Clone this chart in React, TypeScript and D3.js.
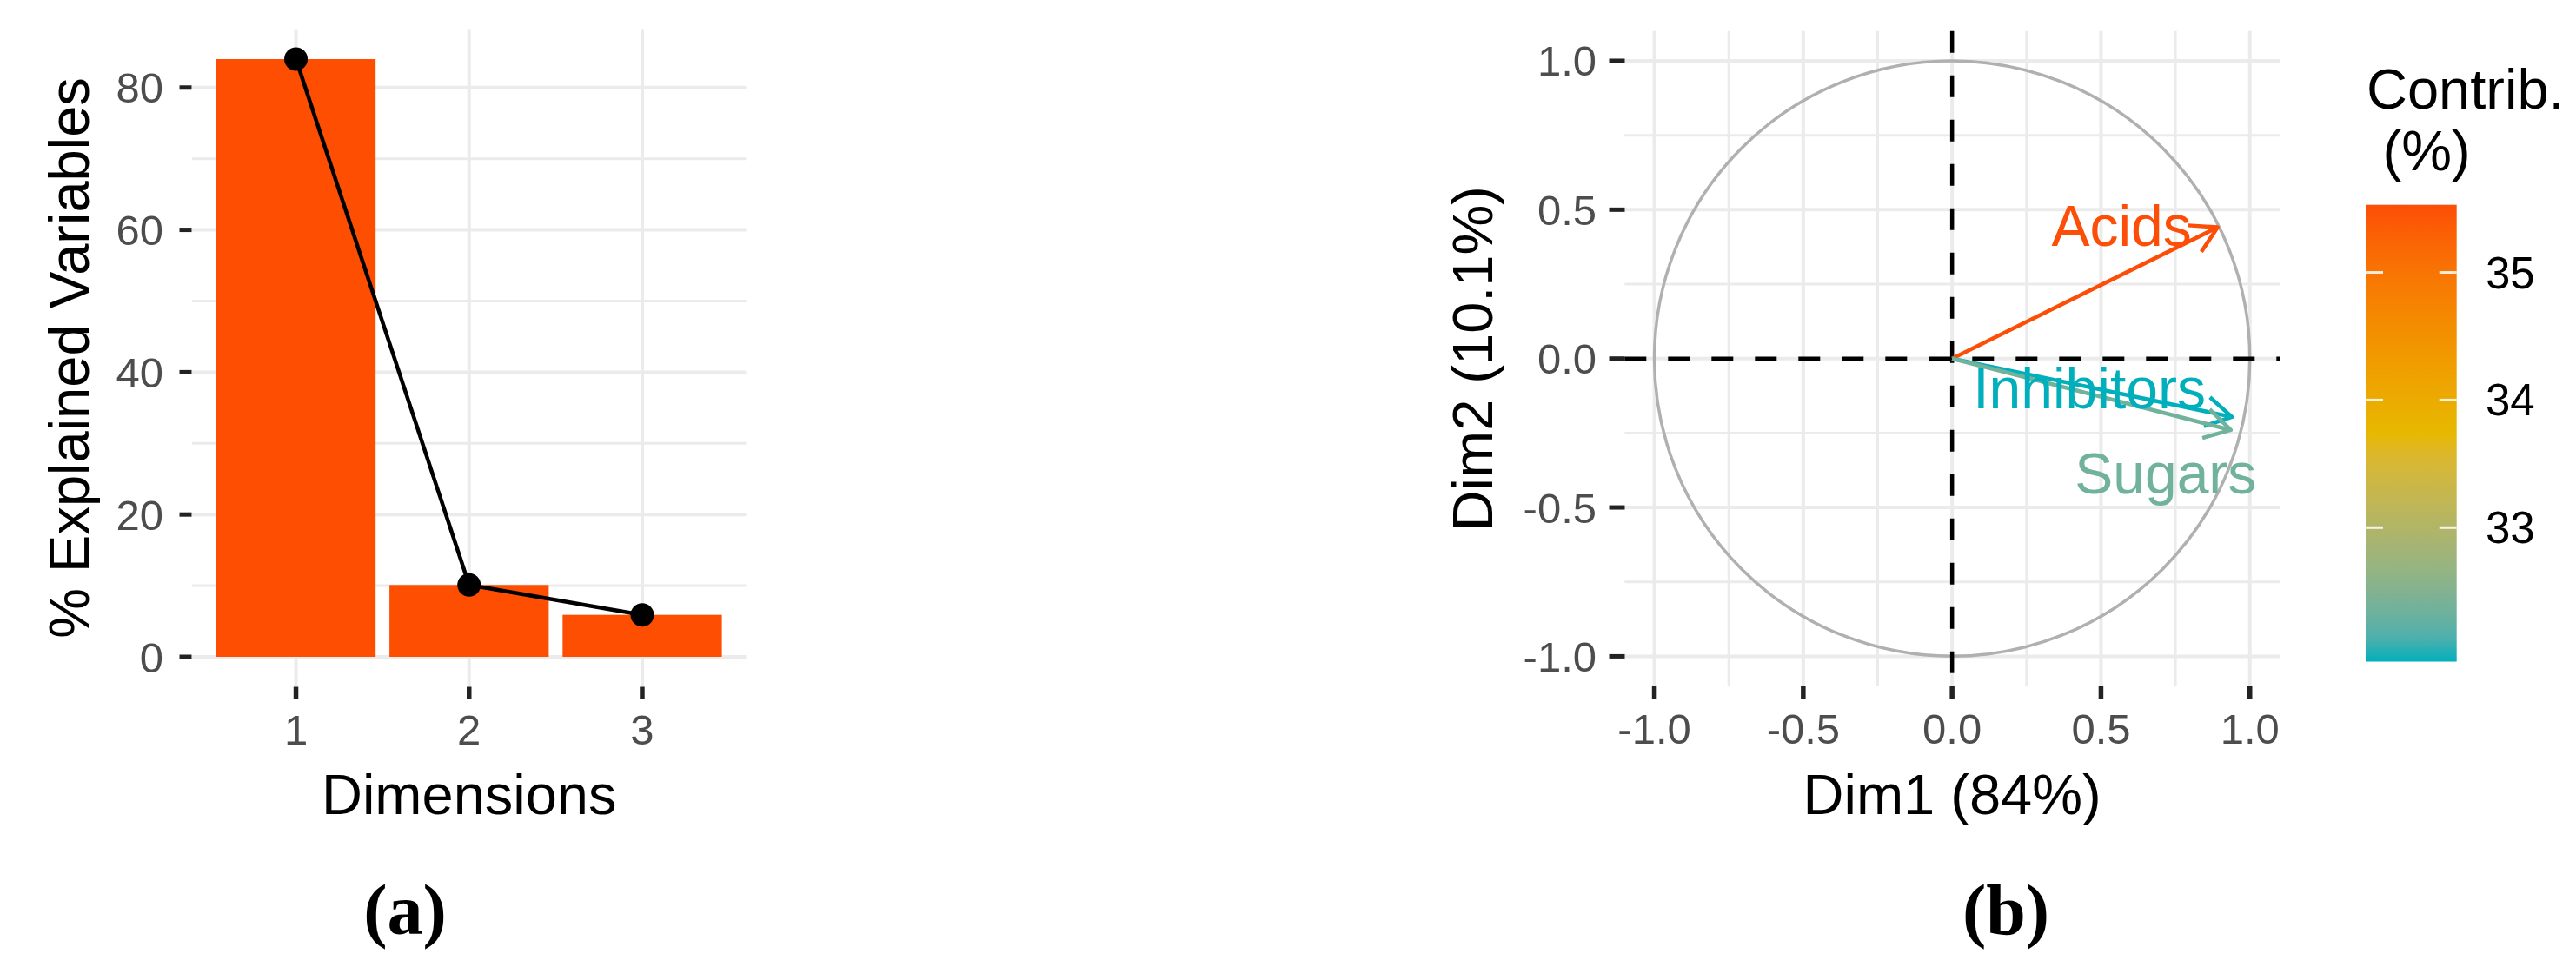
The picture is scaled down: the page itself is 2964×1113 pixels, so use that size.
import React from "react";
import * as d3 from "d3";

// ---- data ----
const dims = ["1", "2", "3"];
const explained = [84.0, 10.1, 5.9];
const eigTicks = [0, 20, 40, 60, 80];
const eigMinor = [10, 30, 50, 70];

const varNames = ["Acids", "Inhibitors", "Sugars"];
const dim1Coord = [0.892, 0.94, 0.936];
const dim2Coord = [0.441, -0.196, -0.24];
const contrib = [35.53, 31.95, 32.35];
const labelDim1 = [0.569, 0.461, 0.717];
const labelDim2 = [0.378, -0.168, -0.454];
const pcaTicks = [-1, -0.5, 0, 0.5, 1];
const pcaMinor = [-0.75, -0.25, 0.25, 0.75];
const legendTicks = [33, 34, 35];
const gradientColors = ["#00AFBB", "#E7B800", "#FC4E07"];

const FONT = "'Liberation Sans', Arial, sans-serif";
const GRID = "#ebebeb";
const TICKTXT = "#4d4d4d";

const fmt = (v: number) => d3.format(".1f")(v).replace("\u2212", "-");

export default function App() {
  // left panel scales
  const xL = d3.scaleLinear().domain([0.4, 3.6]).range([221, 858.5]);
  const yL = d3.scaleLinear().domain([-4.2, 88.2]).range([790.4, 33.6]);
  const barW = 0.92;
  const line = d3
    .line<number>()
    .x((_, i) => xL(i + 1))
    .y((d) => yL(d));

  // right panel scales
  const xR = d3.scaleLinear().domain([-1.1, 1.1]).range([1869.3, 2623]);
  const yR = d3.scaleLinear().domain([-1.1, 1.1]).range([789.7, 35.7]);

  const cMin = d3.min(contrib) as number;
  const cMax = d3.max(contrib) as number;
  const color = d3
    .scaleLinear<string>()
    .domain([cMin, (cMin + cMax) / 2, cMax])
    .range(gradientColors)
    .interpolate(d3.interpolateLab);
  const yLeg = d3.scaleLinear().domain([cMin, cMax]).range([761.5, 235.7]);

  const stops = d3.range(0, 1.0001, 0.05).map((t) => ({
    off: t,
    col: color(cMin + (1 - t) * (cMax - cMin)),
  }));

  const circle = d3.path();
  circle.arc(xR(0), yR(0), xR(1) - xR(0), 0, Math.PI * 2);

  const arrowHead = (x0: number, y0: number, x1: number, y1: number) => {
    const ang = Math.atan2(y1 - y0, x1 - x0);
    const L = 34;
    const a = Math.PI / 6;
    const p1 = [x1 - L * Math.cos(ang - a), y1 - L * Math.sin(ang - a)];
    const p2 = [x1 - L * Math.cos(ang + a), y1 - L * Math.sin(ang + a)];
    return `M${p1[0]},${p1[1]}L${x1},${y1}L${p2[0]},${p2[1]}`;
  };

  return (
    <svg
      width={2964}
      height={1113}
      style={{ position: "absolute", left: 0, top: 0, background: "#fff" }}
      fontFamily={FONT}
    >
      <defs>
        <linearGradient id="leg" x1="0" y1="0" x2="0" y2="1">
          {stops.map((s, i) => (
            <stop key={i} offset={s.off} stopColor={s.col} />
          ))}
        </linearGradient>
      </defs>
      <rect width={2964} height={1113} fill="#fff" />

      {/* ---------- Panel (a) ---------- */}
      <g>
        {eigMinor.map((v) => (
          <line key={"m" + v} x1={221} x2={858.5} y1={yL(v)} y2={yL(v)} stroke={GRID} strokeWidth={3} />
        ))}
        {eigTicks.map((v) => (
          <line key={"g" + v} x1={221} x2={858.5} y1={yL(v)} y2={yL(v)} stroke={GRID} strokeWidth={4} />
        ))}
        {dims.map((d, i) => (
          <line key={"v" + d} x1={xL(i + 1)} x2={xL(i + 1)} y1={33.6} y2={790.4} stroke={GRID} strokeWidth={4} />
        ))}
        {explained.map((v, i) => (
          <rect
            key={"b" + i}
            x={xL(i + 1 - barW / 2)}
            width={xL(i + 1 + barW / 2) - xL(i + 1 - barW / 2)}
            y={yL(v)}
            height={yL(0) - yL(v)}
            fill="#FD4E02"
          />
        ))}
        <path d={line(explained) || ""} fill="none" stroke="#000" strokeWidth={4.5} />
        {explained.map((v, i) => (
          <circle key={"p" + i} cx={xL(i + 1)} cy={yL(v)} r={13.5} fill="#000" />
        ))}
        {/* y axis */}
        {eigTicks.map((v) => (
          <g key={"yt" + v}>
            <line x1={206.5} x2={220.5} y1={yL(v)} y2={yL(v)} stroke="#222" strokeWidth={5} />
            <text x={188} y={yL(v) + 17.5} textAnchor="end" fontSize={49} fill={TICKTXT}>
              {v}
            </text>
          </g>
        ))}
        {/* x axis */}
        {dims.map((d, i) => (
          <g key={"xt" + d}>
            <line x1={xL(i + 1)} x2={xL(i + 1)} y1={790.5} y2={805} stroke="#222" strokeWidth={5.5} />
            <text x={xL(i + 1)} y={856.5} textAnchor="middle" fontSize={49} fill={TICKTXT}>
              {d}
            </text>
          </g>
        ))}
        <text x={(221 + 858.5) / 2} y={937} textAnchor="middle" fontSize={65} fill="#000">
          Dimensions
        </text>
        <text
          transform={`translate(101.5, ${(33.6 + 790.4) / 2}) rotate(-90)`}
          textAnchor="middle"
          fontSize={65}
          fill="#000"
        >
          % Explained Variables
        </text>
        <text
          x={466}
          y={1075}
          textAnchor="middle"
          fontSize={82}
          fontWeight="bold"
          fontFamily="'Liberation Serif', 'Times New Roman', serif"
          fill="#000"
        >
          (a)
        </text>
      </g>

      {/* ---------- Panel (b) ---------- */}
      <g>
        {pcaMinor.map((v) => (
          <g key={"pm" + v}>
            <line x1={xR(-1.1)} x2={xR(1.1)} y1={yR(v)} y2={yR(v)} stroke={GRID} strokeWidth={3} />
            <line x1={xR(v)} x2={xR(v)} y1={yR(1.1)} y2={yR(-1.1)} stroke={GRID} strokeWidth={3} />
          </g>
        ))}
        {pcaTicks.map((v) => (
          <g key={"pg" + v}>
            <line x1={xR(-1.1)} x2={xR(1.1)} y1={yR(v)} y2={yR(v)} stroke={GRID} strokeWidth={4} />
            <line x1={xR(v)} x2={xR(v)} y1={yR(1.1)} y2={yR(-1.1)} stroke={GRID} strokeWidth={4} />
          </g>
        ))}
        <path d={circle.toString()} fill="none" stroke="#b0b0b0" strokeWidth={3.5} />
        <line
          x1={xR(-1.1)}
          x2={xR(1.1)}
          y1={yR(0)}
          y2={yR(0)}
          stroke="#000"
          strokeWidth={4.5}
          strokeDasharray="25 25"
        />
        <line
          x1={xR(0)}
          x2={xR(0)}
          y1={yR(1.1)}
          y2={yR(-1.1)}
          stroke="#000"
          strokeWidth={4.5}
          strokeDasharray="25 26"
        />
        {varNames.map((n, i) => {
          const c = color(contrib[i]);
          const x0 = xR(0);
          const y0 = yR(0);
          const x1 = xR(dim1Coord[i]);
          const y1 = yR(dim2Coord[i]);
          return (
            <g key={"arr" + n}>
              <line x1={x0} y1={y0} x2={x1} y2={y1} stroke={c} strokeWidth={4.5} />
              <path d={arrowHead(x0, y0, x1, y1)} fill="none" stroke={c} strokeWidth={4.5} strokeLinejoin="round" />
            </g>
          );
        })}
        {varNames.map((n, i) => (
          <text
            key={"lab" + n}
            x={xR(labelDim1[i])}
            y={yR(labelDim2[i])}
            textAnchor="middle"
            fontSize={66}
            fill={color(contrib[i])}
          >
            {n}
          </text>
        ))}
        {/* y axis */}
        {pcaTicks.map((v) => (
          <g key={"pyt" + v}>
            <line x1={1851.5} x2={1869.5} y1={yR(v)} y2={yR(v)} stroke="#222" strokeWidth={5} />
            <text x={1837} y={yR(v) + 17.5} textAnchor="end" fontSize={49} fill={TICKTXT}>
              {fmt(v)}
            </text>
          </g>
        ))}
        {/* x axis */}
        {pcaTicks.map((v) => (
          <g key={"pxt" + v}>
            <line x1={xR(v)} x2={xR(v)} y1={790} y2={805} stroke="#222" strokeWidth={5.5} />
            <text x={xR(v)} y={856} textAnchor="middle" fontSize={49} fill={TICKTXT}>
              {fmt(v)}
            </text>
          </g>
        ))}
        <text x={xR(0)} y={937} textAnchor="middle" fontSize={65} fill="#000">
          Dim1 (84%)
        </text>
        <text
          transform={`translate(1716.5, ${yR(0)}) rotate(-90)`}
          textAnchor="middle"
          fontSize={65}
          fill="#000"
        >
          Dim2 (10.1%)
        </text>

        {/* legend */}
        <text x={2723} y={125} fontSize={65} fill="#000">
          Contrib.
        </text>
        <text x={2741.5} y={196} fontSize={65} fill="#000">
          (%)
        </text>
        <rect x={2722} y={yLeg(cMax)} width={104.7} height={yLeg(cMin) - yLeg(cMax)} fill="url(#leg)" />
        {legendTicks.map((t) => (
          <g key={"lt" + t}>
            <line x1={2722} x2={2742} y1={yLeg(t)} y2={yLeg(t)} stroke="#fff" strokeWidth={3} strokeOpacity={0.85} />
            <line x1={2806.7} x2={2826.7} y1={yLeg(t)} y2={yLeg(t)} stroke="#fff" strokeWidth={3} strokeOpacity={0.85} />
            <text x={2860} y={yLeg(t) + 18} fontSize={51} fill="#000">
              {t}
            </text>
          </g>
        ))}
        <text
          x={2308}
          y={1075}
          textAnchor="middle"
          fontSize={82}
          fontWeight="bold"
          fontFamily="'Liberation Serif', 'Times New Roman', serif"
          fill="#000"
        >
          (b)
        </text>
      </g>
    </svg>
  );
}
